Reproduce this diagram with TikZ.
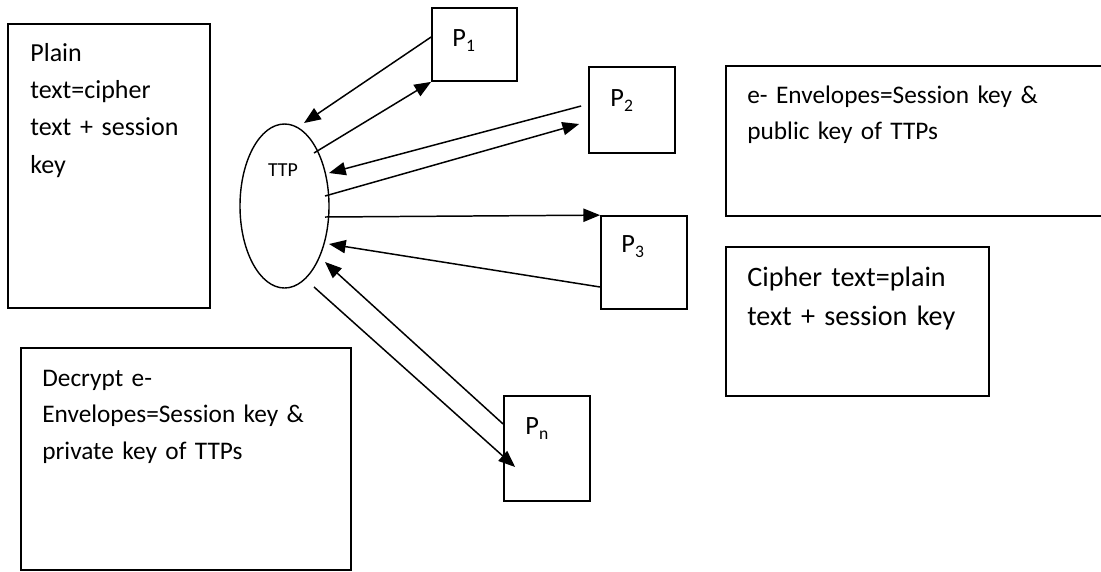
\documentclass[tikz,border=0pt]{standalone}
\usepackage{fontspec}
\setmainfont{Carlito}
\usetikzlibrary{arrows.meta,shapes.geometric}
\newcommand{\pname}[1]{P\raisebox{-3pt}{\fontsize{10}{11}\selectfont #1}}

\begin{document}
\begin{tikzpicture}[
    box/.style={draw,line width=1.1pt,inner sep=0pt},
    party/.style={draw,line width=1pt,minimum width=1.72cm,inner sep=0pt},
    plabel/.style={anchor=base west,inner sep=0pt,font=\fontsize{15}{18}\selectfont},
    note/.style={anchor=base west,align=left,inner sep=0pt,text width=7.2cm},
    msg/.style={-{Triangle[length=9.5pt,width=7.5pt]},line width=0.85pt}
  ]
  \useasboundingbox (0,0) rectangle (22.02,-11.42);
  % TTP
  \node[draw,ellipse,line width=0.8pt,minimum width=1.78cm,minimum height=3.28cm,inner sep=0pt] (ttp) at (5.69,-4.12) {};
  \node[font=\fontsize{11.3}{13}\selectfont] (ttpname) at (5.66,-3.40) {TTP};
  % parties
  \node[party,minimum width=1.70cm,minimum height=1.46cm] (p1) at (9.49,-0.89) {};
  \node[party,minimum height=1.72cm] (p2) at (12.64,-2.2) {};
  \node[party,minimum height=1.86cm] (p3) at (12.88,-5.25) {};
  \node[party,minimum height=2.1cm] (pn) at (10.94,-8.97) {};
  \node[plabel] (p1name) at ([shift={(0.42,-0.78)}]p1.north west) {\pname{1}};
  \node[plabel] (p2name) at ([shift={(0.44,-0.80)}]p2.north west) {\pname{2}};
  \node[plabel] (p3name) at ([shift={(0.42,-0.74)}]p3.north west) {\pname{3}};
  \node[plabel] (pnname) at ([shift={(0.44,-0.78)}]pn.north west) {\pname{n}};
  % notes
  \node[box,minimum width=4.04cm,minimum height=5.68cm] (plainbox) at (2.18,-3.32) {};
  \node[note,font=\fontsize{14.8}{21.3}\selectfont] (plaintext) at (0.6,-1.22) {Plain\\text=cipher\\text + session\\key};
  \node[box,minimum width=7.56cm,minimum height=3.0cm] (envbox) at (18.3,-2.82) {};
  \node[note,font=\fontsize{14.4}{21}\selectfont] (envtext) at (14.94,-2.06) {e- Envelopes=Session key \&\\public key of TTPs};
  \node[box,minimum width=5.26cm,minimum height=2.98cm] (cipherbox) at (17.15,-6.43) {};
  \node[note,font=\fontsize{16}{22.2}\selectfont] (ciphertext) at (14.94,-5.72) {Cipher text=plain\\text + session key};
  \node[box,minimum width=6.6cm,minimum height=4.44cm] (decbox) at (3.72,-9.18) {};
  \node[note,font=\fontsize{14.4}{20.8}\selectfont] (dectext) at (0.84,-7.72) {Decrypt e-\\Envelopes=Session key \&\\private key of TTPs};
  % messages
  \draw[msg] ([yshift=0.15cm]p1.west) -- ([shift={(0.39,1.66)}]ttp.center);
  \draw[msg] ([shift={(0.59,1.06)}]ttp.center) -- (p1.south west);
  \draw[msg] ([shift={(-0.14,0.08)}]p2.west) -- ([shift={(0.89,0.66)}]ttp.center);
  \draw[msg] ([shift={(0.81,0.2)}]ttp.center) -- ([shift={(-0.18,-0.28)}]p2.west);
  \draw[msg] ([shift={(0.81,-0.22)}]ttp.center) -- (p3.north west);
  \draw[msg] ([yshift=-0.49cm]p3.west) -- ([shift={(0.89,-0.76)}]ttp.center);
  \draw[msg] ([yshift=0.49cm]pn.west) -- ([shift={(0.81,-1.12)}]ttp.center);
  \draw[msg] ([shift={(0.59,-1.62)}]ttp.center) -- ([shift={(0.24,-0.37)}]pn.west);
\end{tikzpicture}
\end{document}
